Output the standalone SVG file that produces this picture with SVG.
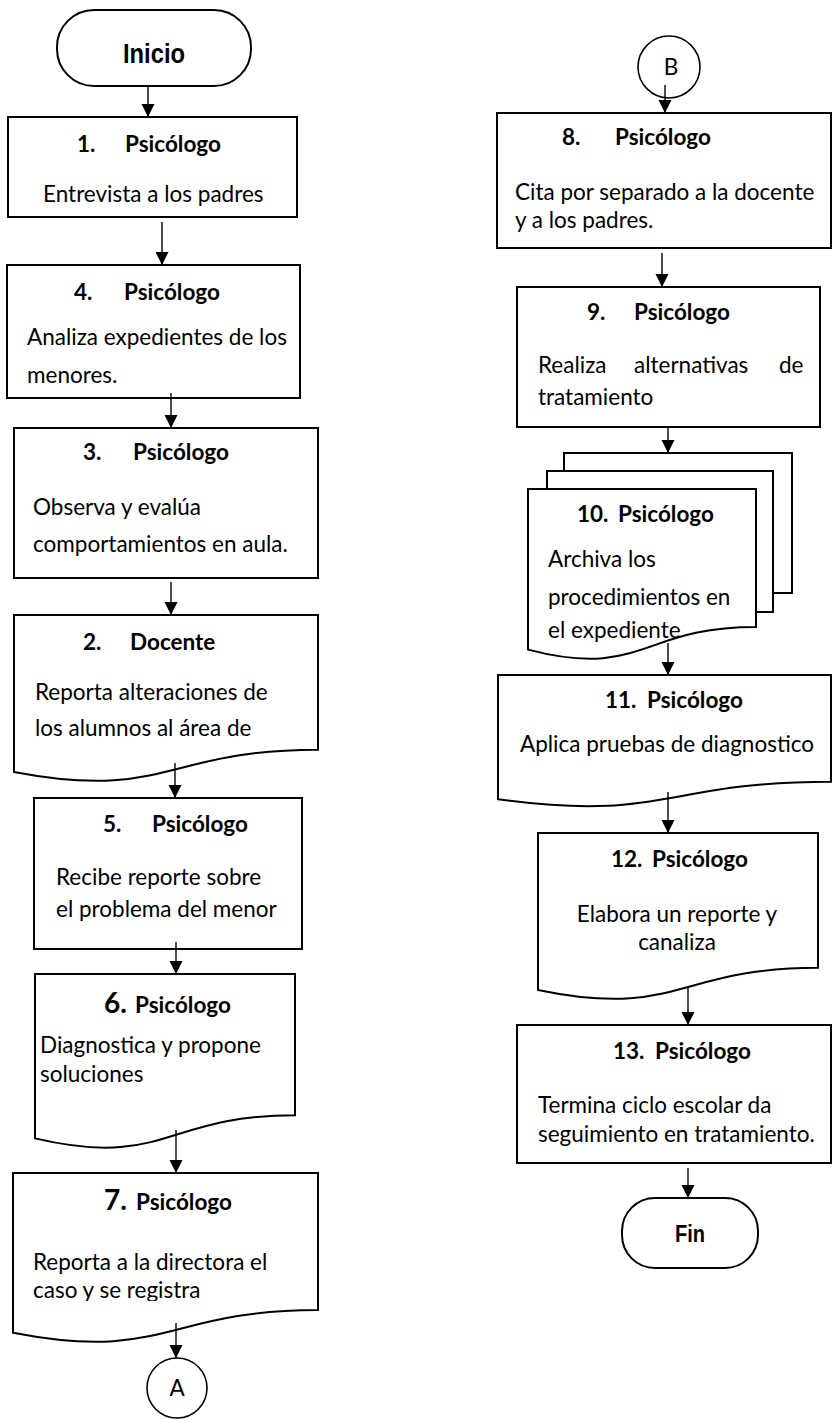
<svg xmlns="http://www.w3.org/2000/svg" width="833" height="1420" viewBox="0 0 833 1420">
<style>
.box{fill:#fff;stroke:#000;stroke-width:2}
.term{fill:#fff;stroke:#000;stroke-width:2}
.circ{fill:#fff;stroke:#000;stroke-width:1.6}
.t{font-family:Lato,"Noto Sans",sans-serif;font-size:22.5px;fill:#000}
.b{font-family:Lato,"Noto Sans",sans-serif;font-size:22.5px;font-weight:bold;fill:#000}
.big{font-size:28px}
.n{font-family:"Liberation Sans Narrow","Liberation Sans",sans-serif;font-weight:bold;fill:#000;text-anchor:middle}
.c{text-anchor:middle}
.conn line{stroke:#000;stroke-width:1.4;marker-end:url(#ah)}
</style>
<defs>
<marker id="ah" markerUnits="userSpaceOnUse" markerWidth="14" markerHeight="14" refX="13" refY="6.5" orient="auto"><path d="M0,0 L13,6.5 L0,13 Z" fill="#000"/></marker>
<clipPath id="c1"><rect x="8" y="117" width="289" height="89"/></clipPath>
<clipPath id="c7"><rect x="13" y="1173" width="305" height="128"/></clipPath>
</defs>

<g id="inicio"><rect class="term" x="57" y="10" width="194" height="76" rx="37" ry="37"/><text class="n" x="154" y="63" font-size="28" textLength="62" lengthAdjust="spacingAndGlyphs">Inicio</text></g>

<g id="n1"><rect class="box" x="8" y="117" width="289" height="100"/>
<text class="b" x="77" y="152">1.</text><text class="b" x="125" y="152">Psicólogo</text>
<text class="t" x="43" y="202" clip-path="url(#c1)">Entrevista a los padres</text></g>

<g id="n4"><rect class="box" x="7" y="265" width="293" height="133"/>
<text class="b" x="74" y="300">4.</text><text class="b" x="124" y="300">Psicólogo</text>
<text class="t" x="27" y="345">Analiza expedientes de los</text>
<text class="t" x="27" y="383">menores.</text></g>

<g id="n3"><rect class="box" x="14" y="428" width="304" height="150"/>
<text class="b" x="83" y="460">3.</text><text class="b" x="133" y="460">Psicólogo</text>
<text class="t" x="33" y="515">Observa y evalúa</text>
<text class="t" x="33" y="552">comportamientos en aula.</text></g>

<g id="n2"><path class="box" d="M14,615 H318 V749.7 C166,749.7 166,800.9 14,771.9 Z"/>
<text class="b" x="83" y="650">2.</text><text class="b" x="130" y="650">Docente</text>
<text class="t" x="35" y="700">Reporta alteraciones de</text>
<text class="t" x="35" y="736">los alumnos al área de</text></g>

<g id="n5"><rect class="box" x="34" y="798" width="268" height="151"/>
<text class="b" x="103" y="832">5.</text><text class="b" x="152" y="832">Psicólogo</text>
<text class="t" x="56" y="885">Recibe reporte sobre</text>
<text class="t" x="56" y="917">el problema del menor</text></g>

<g id="n6"><path class="box" d="M35,974 H295 V1115.2 C165,1115.2 165,1168.8 35,1138.4 Z"/>
<text class="b big" x="104" y="1013">6.</text><text class="b" x="135" y="1013">Psicólogo</text>
<text class="t" x="40" y="1053">Diagnostica y propone</text>
<text class="t" x="40" y="1082">soluciones</text></g>

<g id="n7"><path class="box" d="M13,1173 H318 V1310.1 C165.5,1310.1 165.5,1362.3 13,1332.7 Z"/>
<text class="b big" x="104" y="1210">7.</text><text class="b" x="136" y="1210">Psicólogo</text>
<text class="t" x="33" y="1270">Reporta a la directora el</text>
<text class="t" x="33" y="1298" clip-path="url(#c7)">caso y se registra</text></g>

<g id="conA"><circle class="circ" cx="177" cy="1388" r="30"/><text class="t c" x="177" y="1396" font-size="21">A</text></g>

<g id="conB"><circle class="circ" cx="669" cy="67" r="31"/><text class="t c" x="671" y="75" font-size="22">B</text></g>

<g id="n8"><rect class="box" x="497" y="113" width="334" height="135"/>
<text class="b" x="562" y="145">8.</text><text class="b" x="615" y="145">Psicólogo</text>
<text class="t" x="515" y="200">Cita por separado a la docente</text>
<text class="t" x="515" y="228">y a los padres.</text></g>

<g id="n9"><rect class="box" x="517" y="287" width="303" height="140"/>
<text class="b" x="587" y="320">9.</text><text class="b" x="634" y="320">Psicólogo</text>
<text class="t" y="373"><tspan x="538">Realiza</tspan><tspan x="634">alternativas</tspan><tspan x="779">de</tspan></text>
<text class="t" x="538" y="405">tratamiento</text></g>

<g id="n10">
<rect class="box" x="564" y="453" width="228" height="140"/>
<rect class="box" x="547" y="471" width="226" height="141"/>
<path class="box" d="M528,489 H756 V626.9 C642,626.9 642,679.4 528,649.6 Z"/>
<text class="b" x="577" y="522">10.</text><text class="b" x="618" y="522">Psicólogo</text>
<text class="t" x="548" y="567">Archiva los</text>
<text class="t" x="548" y="605">procedimientos en</text>
<text class="t" x="548" y="638">el expediente</text></g>

<g id="n11"><path class="box" d="M498,675 H831 V781.7 C664.5,781.7 664.5,822.2 498,799.2 Z"/>
<text class="b" x="605" y="708">11.</text><text class="b" x="647" y="708">Psicólogo</text>
<text class="t" x="520" y="752">Aplica pruebas de diagnostico</text></g>

<g id="n12"><path class="box" d="M538,833 H818 V967.7 C678,967.7 678,1019 538,989.9 Z"/>
<text class="b" x="611" y="867">12.</text><text class="b" x="652" y="867">Psicólogo</text>
<text class="t c" x="677" y="922">Elabora un reporte y</text>
<text class="t c" x="677" y="950">canaliza</text></g>

<g id="n13"><rect class="box" x="517" y="1025" width="314" height="138"/>
<text class="b" x="613" y="1059">13.</text><text class="b" x="655" y="1059">Psicólogo</text>
<text class="t" x="538" y="1113">Termina ciclo escolar da</text>
<text class="t" x="538" y="1142">seguimiento en tratamiento.</text></g>

<g id="fin"><rect class="term" x="622" y="1198" width="136" height="70" rx="33" ry="33"/><text class="n" x="690" y="1242" font-size="24" textLength="30" lengthAdjust="spacingAndGlyphs">Fin</text></g>

<g id="connectors" class="conn">
<line x1="148" y1="86" x2="148" y2="117"/>
<line x1="162" y1="222" x2="162" y2="265"/>
<line x1="171" y1="393" x2="171" y2="428"/>
<line x1="171" y1="582" x2="171" y2="615"/>
<line x1="175" y1="763" x2="175" y2="798"/>
<line x1="176" y1="942" x2="176" y2="974"/>
<line x1="176" y1="1130" x2="176" y2="1173"/>
<line x1="176" y1="1323" x2="176" y2="1358"/>
<line x1="665" y1="85" x2="665" y2="113"/>
<line x1="662" y1="253" x2="662" y2="287"/>
<line x1="668" y1="427" x2="668" y2="453"/>
<line x1="668" y1="643" x2="668" y2="675"/>
<line x1="668" y1="792" x2="668" y2="833"/>
<line x1="688" y1="987" x2="688" y2="1025"/>
<line x1="688" y1="1168" x2="688" y2="1198"/>
</g>
</svg>
